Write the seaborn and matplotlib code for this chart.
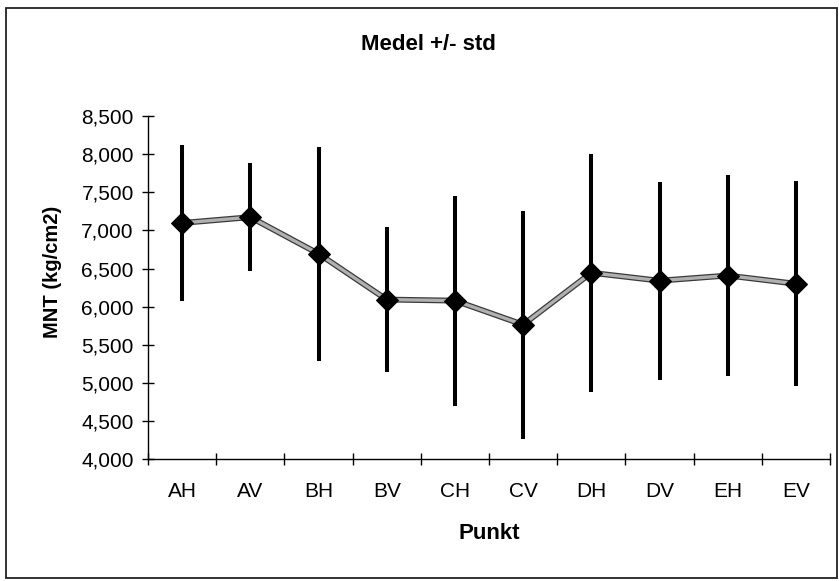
import numpy as np
import matplotlib
matplotlib.use("Agg")
import matplotlib.pyplot as plt
from matplotlib.ticker import FuncFormatter, FixedLocator
from matplotlib.patches import Rectangle
import seaborn as sns
import pandas as pd

categories = ["AH", "AV", "BH", "BV", "CH", "CV", "DH", "DV", "EH", "EV"]
means = [7098, 7174, 6695, 6094, 6080, 5765, 6445, 6341, 6409, 6301]
stds = [1022, 706, 1401, 950, 1377, 1493, 1560, 1296, 1322, 1346]
yticks = [4000, 4500, 5000, 5500, 6000, 6500, 7000, 7500, 8000, 8500]

sns.set_theme(style="white")
plt.rcParams["font.family"] = ["Liberation Sans", "DejaVu Sans"]

df = pd.DataFrame({"pos": np.arange(len(categories)), "mean": means, "std": stds})

W, H = 839, 581
fig = plt.figure(figsize=(W / 100, H / 100), dpi=100)
ax = fig.add_axes([148 / W, 1 - 459.3 / H, (830 - 148) / W, (459.3 - 116) / H])

# error bars
lo = df["mean"] - df["std"]
hi = df["mean"] + df["std"]
ax.vlines(df["pos"], lo, hi, color="black", lw=2.9, zorder=2)

# patterned-looking line: dark outline + grey core
sns.lineplot(data=df, x="pos", y="mean", ax=ax, color="#3a3a3a", lw=4.2, zorder=3)
sns.lineplot(data=df, x="pos", y="mean", ax=ax, color="#b0b0b0", lw=2.4, zorder=4)
sns.lineplot(data=df, x="pos", y="mean", ax=ax, lw=0, marker="D", markersize=11.5,
             color="black", markeredgecolor="black", zorder=5)

ax.set_xlim(-0.5, len(categories) - 0.5)
ax.set_ylim(4000, 8500)

ax.yaxis.set_major_locator(FixedLocator(yticks))
ax.yaxis.set_major_formatter(FuncFormatter(lambda v, p: f"{v:,.0f}"))

ax.xaxis.set_major_locator(FixedLocator(np.arange(-0.5, len(categories), 1.0)))
ax.xaxis.set_major_formatter(FuncFormatter(lambda v, p: ""))
ax.set_xticks(np.arange(len(categories)), labels=categories, minor=True)

for s in ["top", "right"]:
    ax.spines[s].set_visible(False)
for s in ["left", "bottom"]:
    ax.spines[s].set_color("black")
    ax.spines[s].set_linewidth(1.0)

ax.tick_params(axis="y", which="major", direction="inout", length=8.5, width=1.0,
               color="black", labelsize=15, pad=6, left=True, labelcolor="black")
ax.tick_params(axis="x", which="major", direction="inout", length=9, width=1.0,
               color="black", bottom=True)
ax.tick_params(axis="x", which="minor", length=0, labelsize=15, pad=16,
               labelcolor="black")

ax.set_xlabel("")
ax.set_ylabel("")

fig.text(428 / W, 1 - 50 / H, "Medel +/- std", ha="center", va="baseline",
         fontsize=16, fontweight="bold", color="black")
fig.text(489 / W, 1 - 539 / H, "Punkt", ha="center", va="baseline",
         fontsize=16, fontweight="bold", color="black")
fig.text(52 / W, 1 - 272 / H, "MNT (kg/cm2)", ha="center", va="center",
         rotation=90, fontsize=14.5, fontweight="bold", color="black")

fig.patches.append(Rectangle((6 / W, 3 / H), 831 / W, 570 / H,
                             transform=fig.transFigure, fill=False,
                             edgecolor="#222222", lw=1.3))

fig.savefig("out.png", dpi=100)
